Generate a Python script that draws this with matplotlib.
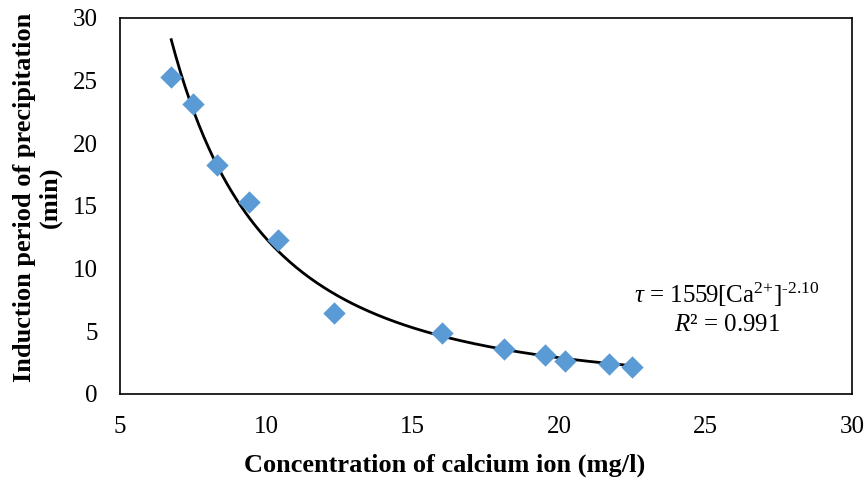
import numpy as np
import matplotlib
matplotlib.use("Agg")
import matplotlib.pyplot as plt

plt.rcParams['font.family'] = ['Liberation Serif', 'DejaVu Serif']
plt.rcParams['mathtext.fontset'] = 'custom'
plt.rcParams['mathtext.rm'] = 'Liberation Serif'
plt.rcParams['mathtext.it'] = 'Liberation Serif:italic'

conc = [6.75, 7.5, 8.3, 9.4, 10.4, 12.3, 16.0, 18.1, 19.5, 20.2, 21.7, 22.5]
induction = [25.3, 23.1, 18.3, 15.3, 12.3, 6.5, 4.85, 3.6, 3.1, 2.6, 2.4, 2.15]
fit_a = 1559
fit_b = -2.10

fig = plt.figure(figsize=(8.67, 4.8), dpi=100)
ax = fig.add_axes([0.1384, 0.1792, 0.8443, 0.7833])

xs = np.linspace(min(conc), max(conc), 200)
ax.plot(xs, fit_a * xs ** fit_b, color="black", lw=2, zorder=2)
ax.scatter(conc, induction, marker="D", s=130, color="#5B9BD5", zorder=3, linewidths=0)

ax.set_xlim(5, 30)
ax.set_ylim(0, 30)
ax.set_xticks(range(5, 31, 5))
ax.set_yticks(range(0, 31, 5))
ax.tick_params(axis="x", length=0, labelsize=18, pad=16)
ax.tick_params(axis="y", length=0, labelsize=18, pad=16)
for s in ax.spines.values():
    s.set_linewidth(1.2)

ax.set_xlabel("Concentration of calcium ion (mg/l)", fontsize=19, fontweight="bold")
ax.xaxis.set_label_coords(0.443, -0.189)
ax.xaxis.label.set_verticalalignment("center")
ax.set_ylabel("Induction period of precipitation\n(min)", fontsize=19, fontweight="bold",
              linespacing=1.15)
ax.yaxis.set_label_coords(-0.113, 0.524)
ax.yaxis.label.set_verticalalignment("center")

ax.text(25.73, 7.9, r"$\tau$ = 1559[Ca$^{\text{2+}}$]$^{\text{-2.10}}$", fontsize=18, ha="center", va="center")
ax.text(25.73, 5.5, r"$R$² = 0.991", fontsize=18, ha="center", va="center")

fig.savefig("out.png", dpi=100)
